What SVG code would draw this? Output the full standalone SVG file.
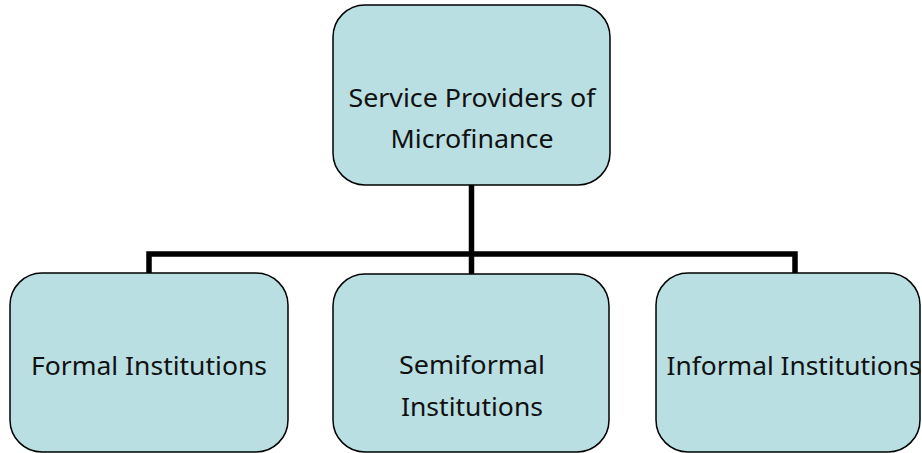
<svg xmlns="http://www.w3.org/2000/svg" width="922" height="453" viewBox="0 0 922 453">
<style>
.box{fill:#B9DFE3;stroke:#000;stroke-width:1.5}
.lbl{font-family:"Noto Sans","Liberation Sans",Arial,sans-serif;font-size:25px;fill:#111;text-anchor:middle}
.conn{fill:none;stroke:#000;stroke-width:5.5;stroke-linejoin:miter}
</style>
<rect width="922" height="453" fill="#fff"/>
<g id="connectors">
<path class="conn" d="M471.5 185 V274"/>
<path class="conn" d="M149 273 V254 H795 V273"/>
</g>
<g id="root">
<rect class="box" x="333" y="5" width="277" height="180" rx="32"/>
<text class="lbl" x="472" y="107" textLength="247" lengthAdjust="spacingAndGlyphs">Service Providers of</text>
<text class="lbl" x="472" y="148" textLength="163" lengthAdjust="spacingAndGlyphs">Microfinance</text>
</g>
<g id="formal">
<rect class="box" x="10" y="273" width="278" height="179" rx="32"/>
<text class="lbl" x="149" y="375" textLength="236" lengthAdjust="spacingAndGlyphs">Formal Institutions</text>
</g>
<g id="semiformal">
<rect class="box" x="333" y="274" width="276" height="178" rx="32"/>
<text class="lbl" x="472" y="374" textLength="146" lengthAdjust="spacingAndGlyphs">Semiformal</text>
<text class="lbl" x="472" y="416" textLength="142" lengthAdjust="spacingAndGlyphs">Institutions</text>
</g>
<g id="informal">
<rect class="box" x="656" y="273" width="264" height="179" rx="32"/>
<text class="lbl" x="794" y="375" textLength="255" lengthAdjust="spacingAndGlyphs">Informal Institutions</text>
</g>
</svg>
